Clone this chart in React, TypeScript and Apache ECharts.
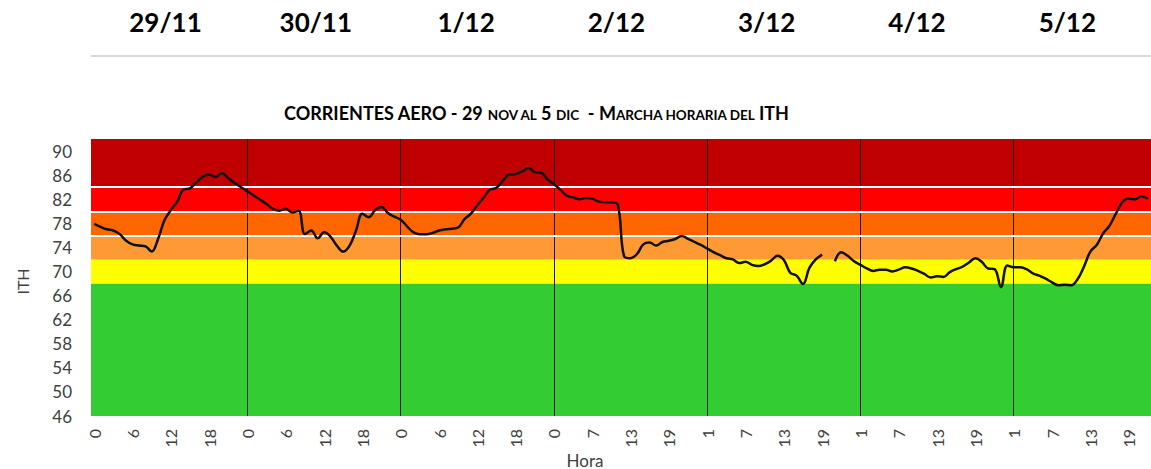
import React, { useEffect, useRef } from 'react';
import * as echarts from 'echarts';

// Day headers / categories
const dayLabels = ['29/11', '30/11', '1/12', '2/12', '3/12', '4/12', '5/12'];
const hoursFull = [0, 1, 2, 3, 4, 5, 6, 7, 8, 9, 10, 11, 12, 13, 14, 15, 16, 17, 18, 19, 20, 21, 22, 23];
const hoursMissingOne = [0, 2, 3, 4, 5, 6, 7, 8, 9, 10, 11, 12, 13, 14, 15, 16, 17, 18, 19, 20, 21, 22, 23];
const hoursTo22 = [0, 1, 2, 3, 4, 5, 6, 7, 8, 9, 10, 11, 12, 13, 14, 15, 16, 17, 18, 19, 20, 21, 22];
const dayHours = [hoursFull, hoursFull, hoursFull, hoursMissingOne, hoursFull, hoursFull, hoursTo22];

// Hourly ITH values per day
const ith2911 = [77.9, 77.4, 77.0, 76.8, 76.2, 75.1, 74.5, 74.3, 74.2, 73.3, 75.4, 78.5, 80.2, 81.6, 83.6, 83.8, 84.8, 85.7, 86.1, 85.7, 86.3, 85.5, 84.7, 84.0];
const ith3011 = [83.3, 82.6, 81.9, 81.2, 80.4, 80.1, 80.4, 79.8, 80.1, 76.2, 76.8, 75.5, 76.5, 75.8, 74.3, 73.3, 74.3, 76.8, 79.6, 79.0, 80.2, 80.7, 79.7, 79.1];
const ith0112 = [78.6, 77.5, 76.5, 76.2, 76.2, 76.4, 76.8, 77.0, 77.1, 77.3, 78.7, 79.6, 81.0, 82.3, 83.6, 83.9, 85.1, 86.1, 86.2, 86.6, 87.2, 86.5, 86.4, 85.3];
const ith0212 = [84.5, 83.6, 82.6, 82.3, 82.0, 82.2, 82.1, 81.6, 81.5, 81.5, 81.1, 72.5, 72.2, 72.9, 74.5, 74.8, 74.3, 74.9, 75.1, 75.4, 75.9, 75.4, 74.9];
const ith0312 = [74.4, 73.8, 73.2, 72.7, 72.2, 72.0, 71.4, 71.6, 71.1, 70.9, 71.2, 71.8, 72.6, 71.9, 69.8, 69.3, 67.9, 70.6, 72.0, 72.8, null, 71.7, 73.2, 72.6];
const ith0412 = [71.7, 71.1, 70.5, 70.1, 70.3, 70.3, 70.0, 70.3, 70.7, 70.5, 70.1, 69.6, 69.0, 69.2, 69.1, 69.9, 70.4, 70.8, 71.5, 72.2, 71.6, 70.5, 70.4, 67.4];
const ith0512 = [71.0, 70.7, 70.7, 70.4, 69.7, 69.3, 68.8, 68.2, 67.7, 67.8, 67.7, 68.7, 70.8, 73.3, 74.4, 76.3, 77.6, 79.6, 81.5, 82.1, 82.0, 82.5, 82.1];

// Comfort bands (ITH thresholds) and day separators (category index)
const bandEdges = [46, 68, 72, 76, 80, 84, 92];
const bandColors = ['#33CC33', '#FFFF00', '#FF9933', '#FF6600', '#FF0000', '#C00000'];
const whiteLines = [76, 80, 84];
const separatorIdx = [24, 48, 72, 96, 120, 144];
const yTicks = [46, 50, 54, 58, 62, 66, 70, 74, 78, 82, 86, 90];

const FONT = 'Lato';

export default function App() {
  const ref = useRef<HTMLDivElement>(null);

  useEffect(() => {
    document.body.style.margin = '0';
    if (!ref.current) return;
    const chart = echarts.init(ref.current, null, { renderer: 'svg' });

    const categories = dayLabels.flatMap((d, di) => dayHours[di].map((h) => `${d} ${h}`));
    const values = [...ith2911, ...ith3011, ...ith0112, ...ith0212, ...ith0312, ...ith0412, ...ith0512];

    const bandData = bandColors.map((c, i) => [
      { yAxis: bandEdges[i], itemStyle: { color: c } },
      { yAxis: bandEdges[i + 1] },
    ]);

    const lineData: any[] = [
      ...separatorIdx.map((i) => ({ xAxis: i, lineStyle: { color: '#1a1a1a', width: 1, type: 'solid' } })),
      ...whiteLines.map((v) => ({ yAxis: v, lineStyle: { color: '#ffffff', width: 2, type: 'solid' } })),
    ];

    const option: any = {
      animation: false,
      title: {
        text: '{a|CORRIENTES AERO - 29 }{b|NOV AL }{a|5 }{b|DIC}{a|  - M}{b|ARCHA HORARIA DEL }{a|ITH}',
        left: 284,
        top: 102,
        padding: 0,
        textStyle: {
          rich: {
            a: { fontSize: 18, fontWeight: 'bold', fontFamily: FONT, color: '#000', verticalAlign: 'bottom', lineHeight: 20 },
            b: { fontSize: 13.5, fontWeight: 'bold', fontFamily: FONT, color: '#000', verticalAlign: 'bottom', lineHeight: 20 },
          },
        },
      },
      grid: { left: 91, right: 0, top: 139, height: 277, containLabel: false },
      xAxis: {
        type: 'category',
        data: categories,
        boundaryGap: true,
        axisLine: { show: false },
        axisTick: { show: false },
        splitLine: { show: false },
        axisLabel: {
          interval: 5,
          rotate: 90,
          margin: 13,
          fontSize: 16,
          fontFamily: FONT,
          color: '#404040',
          formatter: (v: string) => v.split(' ')[1],
        },
      },
      yAxis: {
        type: 'value',
        min: 46,
        max: 92,
        interval: 4,
        axisLine: { show: false },
        axisTick: { show: false },
        splitLine: { show: false },
        axisLabel: {
          margin: 19,
          fontSize: 17,
          fontFamily: FONT,
          color: '#404040',
          formatter: (v: number) => (yTicks.includes(v) ? String(v) : ''),
        },
      },
      graphic: [
        ...dayLabels.map((d, k) => ({
          type: 'text',
          x: 165.5 + 150.3 * k,
          y: 22,
          style: {
            text: d,
            align: 'center',
            verticalAlign: 'middle',
            textAlign: 'center',
            textVerticalAlign: 'middle',
            fontSize: 26,
            fontWeight: 'bold',
            fontFamily: FONT,
            fill: '#000',
          },
        })),
        {
          type: 'line',
          shape: { x1: 91, y1: 56, x2: 1151, y2: 56 },
          style: { stroke: '#d9d9d9', lineWidth: 2 },
        },
        {
          type: 'text',
          x: 22.5,
          y: 281.5,
          rotation: Math.PI / 2,
          style: {
            text: 'ITH',
            align: 'center',
            verticalAlign: 'middle',
            textAlign: 'center',
            textVerticalAlign: 'middle',
            fontSize: 16,
            fontFamily: FONT,
            fill: '#404040',
          },
        },
        {
          type: 'text',
          x: 585,
          y: 460,
          style: {
            text: 'Hora',
            align: 'center',
            verticalAlign: 'middle',
            textAlign: 'center',
            textVerticalAlign: 'middle',
            fontSize: 17,
            fontFamily: FONT,
            fill: '#404040',
          },
        },
      ],
      series: [
        {
          name: 'bandas',
          type: 'line',
          data: categories.map(() => null),
          symbol: 'none',
          silent: true,
          z: 1,
          markArea: { silent: true, z: 1, data: bandData },
          markLine: { silent: true, z: 2, symbol: 'none', label: { show: false }, data: lineData },
        },
        {
          name: 'ITH',
          type: 'line',
          data: values,
          smooth: 0.4,
          symbol: 'none',
          connectNulls: false,
          z: 3,
          lineStyle: { color: '#111111', width: 2.5 },
        },
      ],
    };

    chart.setOption(option);
    return () => chart.dispose();
  }, []);

  return <div ref={ref} style={{ width: 1151, height: 469 }} />;
}
